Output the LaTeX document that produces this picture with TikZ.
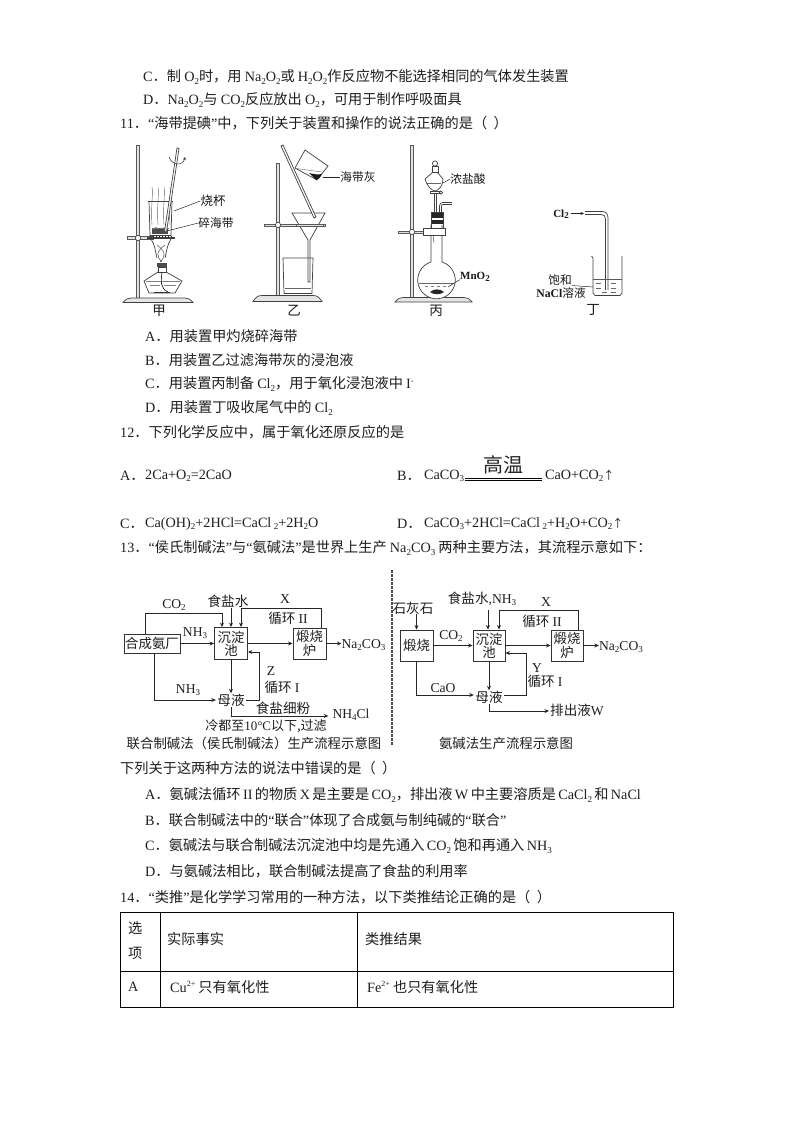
\documentclass[tikz,border=0pt]{standalone}
\usepackage{fontspec}
\usetikzlibrary{arrows.meta}
\setmainfont{Noto Sans CJK SC}
\newfontfamily\latf{Liberation Serif}
\newcommand\la[1]{{\latf #1}}
\newcommand\xb[1]{\raisebox{-0.28ex}{\fontsize{9}{9}\selectfont\latf #1}}
\newcommand\xs[1]{\raisebox{0.75ex}{\fontsize{8}{8}\selectfont\latf #1}}
\newcommand\fs[1]{\fontsize{#1}{#1}\selectfont}
\newcommand\upa{{\fs{11}↑}}
\tikzset{
 txt/.style={anchor=west,inner sep=0pt,font=\fs{14.2},text=black!88},
 ftxt/.style={inner sep=0pt,font=\fs{13.6},align=center,text=black!88},
 app/.style={inner sep=0pt,font=\fs{11.7},align=center,text=black!90},
 fbox/.style={draw=black!80,line width=0.9pt,inner sep=0pt,font=\fs{13.4},align=center,text=black!88},
 arr/.style={draw=black!85,line width=0.8pt,-{Stealth[length=4.5pt,width=4pt]}},
 gl/.style={draw=black!75,line width=0.7pt},
 rodst/.style={draw=black!65,fill=black!12,line width=0.5pt},
 tb/.style={draw=black,line width=0.8pt},
}
\begin{document}
\begin{tikzpicture}[x=1pt,y=-1pt]
\useasboundingbox (0,0) rectangle (793,1123);
\fill[white] (0,0) rectangle (793,1123);
% ---- text lines
\node[txt] (t1) at (143,77) {\la{C}．制 \la{O}\xb{2}时，用 \la{Na}\xb{2}\la{O}\xb{2}或 \la{H}\xb{2}\la{O}\xb{2}作反应物不能选择相同的气体发生装置};
\node[txt] (t2) at (143,100) {\la{D}．\la{Na}\xb{2}\la{O}\xb{2}与 \la{CO}\xb{2}反应放出 \la{O}\xb{2}，可用于制作呼吸面具};
\node[txt] (t3) at (120,123) {\la{11}．\la{“}海带提碘\la{”}中，下列关于装置和操作的说法正确的是（\ \ ）};
\node[txt] (t4) at (145,336) {\la{A}．用装置甲灼烧碎海带};
\node[txt] (t5) at (145,360) {\la{B}．用装置乙过滤海带灰的浸泡液};
\node[txt] (t6) at (145,384) {\la{C}．用装置丙制备 \la{Cl}\xb{2}，用于氧化浸泡液中 \la{I}\xs{-}};
\node[txt] (t7) at (145,408) {\la{D}．用装置丁吸收尾气中的 \la{Cl}\xb{2}};
\node[txt] (t8) at (120,432) {\la{12}．下列化学反应中，属于氧化还原反应的是};
\node[txt] (r1) at (120,476) {\la{A}．};
\node[txt] (r2) at (145,476) {\la{2Ca+O}\xb{2}\la{=2CaO}};
\node[txt] (r3) at (397,476) {\la{B}．};
\node[txt] (r4) at (424,476) {\la{CaCO}\xb{3}};
\node[inner sep=0pt,font=\fs{20},text=black!85] (r5) at (503,465) {高温};
\coordinate (r6a) at (465,480); \coordinate (r6b) at (542,480);
\draw[draw=black,line width=0.5pt] (r6a) -- (r6b) ([yshift=1.6pt]r6a) -- ([yshift=1.6pt]r6b);
\node[txt] (r7) at (545,476) {\la{CaO+CO}\xb{2}\upa};
\node[txt] (r8) at (120,524) {\la{C}．};
\node[txt] (r9) at (145,524) {\la{Ca(OH)}\xb{2}\la{+2HCl=CaCl\,}\xb{2}\la{+2H}\xb{2}\la{O}};
\node[txt] (r10) at (397,524) {\la{D}．};
\node[txt] (r11) at (424,524) {\la{CaCO}\xb{3}\la{+2HCl=CaCl\,}\xb{2}\la{+H}\xb{2}\la{O+CO}\xb{2}\upa};
\node[txt] (t9) at (120,548) {\la{13}．\la{“}侯氏制碱法\la{”}与\la{“}氨碱法\la{”}是世界上生产 \la{Na}\xb{2}\la{CO}\xb{3} 两种主要方法，其流程示意如下：};
\node[txt] (t10) at (120,768) {下列关于这两种方法的说法中错误的是（\ \ ）};
\node[txt] (t11) at (145,795) {\la{A}．氨碱法循环\,\la{II}\,的物质\,\la{X}\,是主要是\,\la{CO}\xb{2}，排出液\,\la{W}\,中主要溶质是\,\la{CaCl}\xb{2}\,和\,\la{NaCl}};
\node[txt] (t12) at (145,820) {\la{B}．联合制碱法中的\la{“}联合\la{”}体现了合成氨与制纯碱的\la{“}联合\la{”}};
\node[txt] (t13) at (145,846) {\la{C}．氨碱法与联合制碱法沉淀池中均是先通入\,\la{CO}\xb{2}\,饱和再通入\,\la{NH}\xb{3}};
\node[txt] (t14) at (145,871) {\la{D}．与氨碱法相比，联合制碱法提高了食盐的利用率};
\node[txt] (t15) at (120,897) {\la{14}．\la{“}类推\la{”}是化学学习常用的一种方法，以下类推结论正确的是（\ \ ）};
% ---- table
\draw[tb] (120,912) rectangle (673,1007);
\draw[tb] (120,971) -- (673,971);
\draw[tb] (160,912) -- (160,1007);
\draw[tb] (357,912) -- (357,1007);
\node[txt] (c1) at (128,928) {选};
\node[txt] (c2) at (128,953) {项};
\node[txt] (c3) at (167,939) {实际事实};
\node[txt] (c4) at (365,939) {类推结果};
\node[txt] (c5) at (128,987) {\la{A}};
\node[txt] (c6) at (170,987) {\la{Cu}\xs{2+} 只有氧化性};
\node[txt] (c7) at (367,987) {\la{Fe}\xs{2+} 也只有氧化性};
% ---- left flow chart
\node[fbox,minimum width=56pt,minimum height=19pt] (lhc) at (152,643.5) {合成氨厂};
\node[fbox,minimum width=33pt,minimum height=32pt] (lpool) at (231,643.5) {沉淀\\池};
\node[fbox,minimum width=33pt,minimum height=31pt] (lfur) at (309.5,643.5) {煅烧\\炉};
\node[ftxt] (lco) at (174,605) {\la{CO}\xb{2}};
\node[ftxt] (lsalt) at (228,601) {食盐水};
\node[ftxt,font=\fs{13.6}\latf] (lX) at (285,599) {X};
\node[ftxt] (lc2) at (288,618) {循环 \la{II}};
\node[ftxt] (ln1t) at (195,633) {\la{NH}\xb{3}};
\node[ftxt] (lna) at (363.5,645) {\la{Na}\xb{2}\la{CO}\xb{3}};
\node[ftxt,minimum width=30pt,minimum height=13pt] (lmu) at (231,700) {母液};
\node[ftxt] (ln2t) at (188,690) {\la{NH}\xb{3}};
\node[ftxt,font=\fs{13.6}\latf] (lZ) at (271,671) {Z};
\node[ftxt] (lc1) at (282,687) {循环 \la{I}};
\node[ftxt] (lfine) at (283,708) {食盐细粉};
\node[ftxt] (lnh) at (351,715) {\la{NH}\xb{4}\la{Cl}};
\node[ftxt,font=\fs{13}] (lcool) at (266,726) {冷都至\la{10°C}以下,过滤};
\node[ftxt,font=\fs{13.4}] (lcap) at (254,743) {联合制碱法（侯氏制碱法）生产流程示意图};
\coordinate (la1) at (145,613); \coordinate (la2) at (222,613);
\draw[arr] (lhc.north -| la1) -- (la1) -- (la2) -- (lpool.north -| la2);
\coordinate (ls1) at (231,608);
\draw[arr] (ls1) -- (lpool.north -| ls1);
\coordinate (lx1) at (321,608); \coordinate (lx2) at (241,608);
\draw[arr] (lfur.north -| lx1) -- (lx1) -- (lx2) -- (lpool.north -| lx2);
\draw[arr] (lhc.east) -- (lpool.west);
\draw[arr] (lpool.east) -- (lfur.west);
\draw[arr] (lfur.east) -- (lna.west |- lfur.east);
\draw[arr] (lpool.south) -- (lmu.north);
\coordinate (lb1) at (154,700);
\draw[arr] (lhc.south -| lb1) -- (lb1) -- (lmu.west);
\coordinate (lr1) at (259,700); \coordinate (lr2) at (252,652);
\coordinate (lr3) at (259,652);
\draw[arr] (lmu.east) -- (lr1) -- (lr3) -- (lpool.east |- lr3);
\coordinate (ld1) at (231,716);
\draw[arr] (lmu.south) -- (ld1) -- ([xshift=-4pt]ld1 -| lnh.west);
% dashed separator
\coordinate (sep1) at (392,570); \coordinate (sep2) at (392,745);
\draw[draw=black!70,line width=1.2pt,dash pattern=on 2.5pt off 1.5pt] (sep1) -- (sep2);
% ---- right flow chart
\node[fbox,minimum width=33pt,minimum height=31pt] (rcal) at (416.5,645.5) {煅烧};
\node[fbox,minimum width=32pt,minimum height=31pt] (rpool) at (489,645.5) {沉淀\\池};
\node[fbox,minimum width=32pt,minimum height=31pt] (rfur) at (567,645.5) {煅烧\\炉};
\node[ftxt] (rlime) at (413,608) {石灰石};
\node[ftxt] (rsalt) at (482,599) {食盐水\la{,NH}\xb{3}};
\node[ftxt] (rco) at (451,636) {\la{CO}\xb{2}};
\node[ftxt,font=\fs{13.6}\latf] (rX) at (546,602) {X};
\node[ftxt] (rc2) at (542,621) {循环 \la{II}};
\node[ftxt] (rna) at (621,647) {\la{Na}\xb{2}\la{CO}\xb{3}};
\node[ftxt,minimum width=30pt,minimum height=13pt] (rmu) at (489,697) {母液};
\node[ftxt] (rcao) at (443,688) {\la{CaO}};
\node[ftxt,font=\fs{13.6}\latf] (rY) at (537,668) {Y};
\node[ftxt] (rc1) at (545,681) {循环 \la{I}};
\node[ftxt] (rw) at (577,710) {排出液\la{W}};
\node[ftxt,font=\fs{13.4}] (rcap) at (506,743) {氨碱法生产流程示意图};
\draw[arr] (rlime.south -| rcal.north) -- (rcal.north);
\coordinate (rs1) at (488,610);
\draw[arr] (rs1) -- (rpool.north -| rs1);
\coordinate (rx1) at (578,610); \coordinate (rx2) at (499,610);
\draw[arr] (rfur.north -| rx1) -- (rx1) -- (rx2) -- (rpool.north -| rx2);
\draw[arr] (rcal.east) -- (rpool.west);
\draw[arr] (rpool.east) -- (rfur.west);
\draw[arr] (rfur.east) -- (rna.west |- rfur.east);
\draw[arr] (rpool.south) -- (rmu.north);
\coordinate (rb1) at (416.5,695);
\draw[arr] (rcal.south) -- (rb1) -- (rmu.west |- rb1);
\coordinate (rr1) at (526,695); \coordinate (rr2) at (526,653);
\draw[arr] (rmu.east |- rr1) -- (rr1) -- (rr2) -- (rpool.east |- rr2);
\coordinate (rd1) at (489,711);
\draw[arr] (rmu.south) -- (rd1) -- ([xshift=-1pt]rd1 -| rw.west);
% ---- apparatus labels
\node[app,font=\fs{13.5}] (a1) at (159,311) {甲};
\node[app,font=\fs{13.5}] (a2) at (294,311) {乙};
\node[app,font=\fs{13.5}] (a3) at (436,311) {丙};
\node[app,font=\fs{13.5}] (a4) at (593,310) {丁};
\node[app,font=\fs{12.5}] (b1) at (213,201) {烧杯};
\node[app] (b2) at (216,223) {碎海带};
\node[app] (b3) at (358,177) {海带灰};
\node[app] (b4) at (468,179) {浓盐酸};
\node[app,font=\fs{11}\latf\bfseries] (b5) at (475,277) {MnO\xb{2}};
\node[app,font=\fs{11}\latf\bfseries] (b6) at (561,214) {Cl\xb{2}};
\node[app] (b7) at (560,280) {饱和};
\node[app] (b8) at (561,293) {\la{\bfseries NaCl}溶液};
% ---- apparatus jia
\draw[rodst] (136.5,145) rectangle (139.5,298);
\draw[rodst] (127,236.5) rectangle (153,239.5);
\draw[fill=white,draw=black!80,line width=0.5pt] (138,238) circle (2.6);
\draw[gl,fill=black!10] (123,302.5) .. controls (126,299) and (128,298) .. (131,298) -- (185,298) .. controls (188,298) and (190,299) .. (193,302.5) -- cycle;
\draw[gl,line width=1pt] (147,238) -- (175,238);
\draw[black!85,line width=1pt,dotted] (150,237) -- (172,237);
% beaker
\draw[gl] (148,201) -- (173,201);
\draw[gl] (149,201) -- (150,235.5) -- (171,235.5) -- (172,201);
\fill[black!70] (152,229) rectangle (168,234);
\draw[black!85,line width=1.2pt] (155,228) -- (160,229) -- (166,228);
\draw[black!55,line width=0.5pt] (152,228) -- (169,228);
% vapours
\foreach \xa in {152,158,164,170} {\draw[black!60,line width=0.4pt] (\xa,187) .. controls (\xa+1.5,195) and (\xa-1.5,205) .. (\xa,225);}
% glass rod
\draw[gl,fill=white] (177,148) -- (179,148.4) -- (166.5,232) -- (164.5,231.6) -- cycle;
% rotation arrow
\draw[black!80,line width=0.5pt,-{Stealth[length=3pt,width=3pt]}] (169,157) .. controls (172,166) and (183,166) .. (185,157);
% labels lines
\coordinate (bl1) at (174,211); \coordinate (bl2) at (167,231);
\draw[black!85,line width=0.5pt] (bl1) -- (b1.west);
\draw[black!85,line width=0.5pt] (bl2) -- (b2.west);
% tripod & flame
\draw[gl] (151,239) .. controls (155,245) and (155,250) .. (157,258);
\draw[gl] (171,239) .. controls (167,245) and (167,250) .. (165,258);
\draw[black!70,line width=0.5pt] (157,245) .. controls (166,252) and (166,256) .. (160,262);
\draw[black!70,line width=0.5pt] (165,245) .. controls (156,252) and (156,256) .. (162,262);
% lamp
\fill[black!70] (157,263) rectangle (167,267);
\draw[gl,fill=white] (158,267) rectangle (166,272);
\draw[gl] (158,272) -- (144,281) -- (149,293) -- (175,293) -- (182,281) -- (166,272);
\draw[black!50,line width=0.4pt] (146,281) -- (180,281);
\draw[black!50,line width=0.4pt] (150,285) -- (160,285) (164,285) -- (176,285);
\draw[black!85,line width=0.7pt] (162,272) .. controls (161,282) and (160,288) .. (168,292);
\draw[black!80,line width=1pt] (154,292) -- (170,292);
% ---- apparatus yi
\draw[rodst] (276.5,163) rectangle (279.5,295);
\draw[gl,fill=black!10] (253,301.5) .. controls (256,297) and (258,295.5) .. (262,295.5) -- (313,295.5) .. controls (317,295.5) and (319,297) .. (322,301.5) -- cycle;
\draw[rodst] (264,224) rectangle (325,226);
\draw[fill=white,draw=black!80,line width=0.5pt] (278,225) circle (2.6);
\draw[gl,fill=white] (292,213) -- (325,213) -- (310,240) -- (310,282) -- (308,282) -- (308,240) -- cycle;
\draw[rodst] (296,224) rectangle (323,226);
\draw[gl] (283,258) -- (284,293.5) -- (312,293.5) -- (313,258) -- cycle;
\draw[black!60,line width=0.5pt] (285,288) -- (311,288);
\draw[gl,fill=white] (281,146) -- (283,145) -- (316,217) -- (314,218) -- cycle;
\draw[gl,fill=white] (305,150) -- (328,166) -- (317,180) -- (295,168) -- cycle;
\draw[black!60,line width=0.4pt] (296,168.5) -- (322,172);
\fill[black!90] (309,173) .. controls (313,174) and (318,175) .. (322,174) .. controls (320,178) and (318,180) .. (316,180) -- cycle;
\coordinate (yl) at (323,177);
\draw[black!85,line width=0.5pt] (yl) -- (b3.west);
% ---- apparatus bing
\draw[rodst] (410.5,145) rectangle (413.5,297);
\draw[gl,fill=black!10] (395,302) .. controls (398,298.5) and (400,297.5) .. (403,297.5) -- (464,297.5) .. controls (467,297.5) and (469,298.5) .. (472,302) -- cycle;
% flask
\draw[gl,fill=white] (431,225) -- (431,262) arc[start angle=253,end angle=-73,radius=18.8] -- (442,225);
\draw[black!60,line width=0.5pt] (419,283) -- (454,283);
\draw[black!50,line width=0.4pt,dash pattern=on 3pt off 3pt] (425,286) -- (448,286);
\fill[black!85] (430,292) .. controls (434,288.5) and (440,288.5) .. (444,292) .. controls (440,295) and (434,295) .. (430,292) -- cycle;
\draw[rodst] (398,231) rectangle (430,233.5);
\draw[gl,fill=white] (423,228) rectangle (445,235);
\draw[fill=white,draw=black!80,line width=0.5pt] (412,232) circle (2.6);
% stopper
\fill[black!85] (431,212) rectangle (443,218);
\fill[black!85] (431,220) rectangle (443,224);
\draw[gl] (431,212) rectangle (443,228);
% sep funnel
\draw[gl] (434.5,193) -- (434.5,213) (436.5,193) -- (436.5,213);
\draw[gl,fill=white] (433,172) -- (425,179) .. controls (427,186) and (431,190) .. (435,191) .. controls (439,190) and (443,186) .. (443,179) -- (437,172) -- cycle;
\draw[black!60,line width=0.4pt] (427,183) -- (441,183);
\draw[gl,fill=white] (432,166) rectangle (438,172);
\draw[gl,fill=white] (435,163.5) circle (2.6);
\draw[gl,fill=white] (430,191.5) rectangle (441,193.5);
\draw[gl,fill=white] (441,192.5) circle (1.6);
% side tube
\draw[gl] (439.5,212) -- (439.5,206) .. controls (439.5,203.5) and (441,202.5) .. (443,202.5) -- (452,202.5);
\draw[gl] (441.5,212) -- (441.5,206.5) .. controls (441.5,205) and (442,204.5) .. (443,204.5) -- (452,204.5);
\draw[black!70,line width=0.5pt] (433,235) -- (434,243);
\coordinate (bl3) at (443,183); \coordinate (bl4) at (448,287);
\draw[black!85,line width=0.5pt] (bl3) -- (b4.west);
\draw[black!85,line width=0.5pt] (bl4) -- ([yshift=2pt]b5.south west);
% ---- apparatus ding
\coordinate (dl1) at (571,213.5); \coordinate (dl2) at (584,213.5);
\draw[black!85,line width=0.5pt,-{Stealth[length=3.5pt,width=3pt]}] (dl1) -- (dl2);
\draw[gl] (585,211.5) -- (602,211.5) .. controls (606,211.5) and (608,214) .. (608,218) -- (608,290);
\draw[gl] (585,214.5) -- (601,214.5) .. controls (604,214.5) and (605.5,216) .. (605.5,219) -- (605.5,290);
\draw[gl] (591.5,256) -- (593,258) -- (593,293) -- (595,295.5) -- (620,295.5) -- (622,293) -- (622,256);
\draw[black!65,line width=0.5pt] (593,279) -- (622,279);
\foreach \ya/\xa/\xb in {283/596/601,283/611/616,288/596/601,288/611/616,292/602/607,292/611/616}{\draw[black!60,line width=0.4pt] (\xa,\ya) -- (\xb,\ya);}
\coordinate (dl3) at (593,287);
\draw[black!85,line width=0.5pt] (b7.south east) -- (dl3);
\end{tikzpicture}
\end{document}
